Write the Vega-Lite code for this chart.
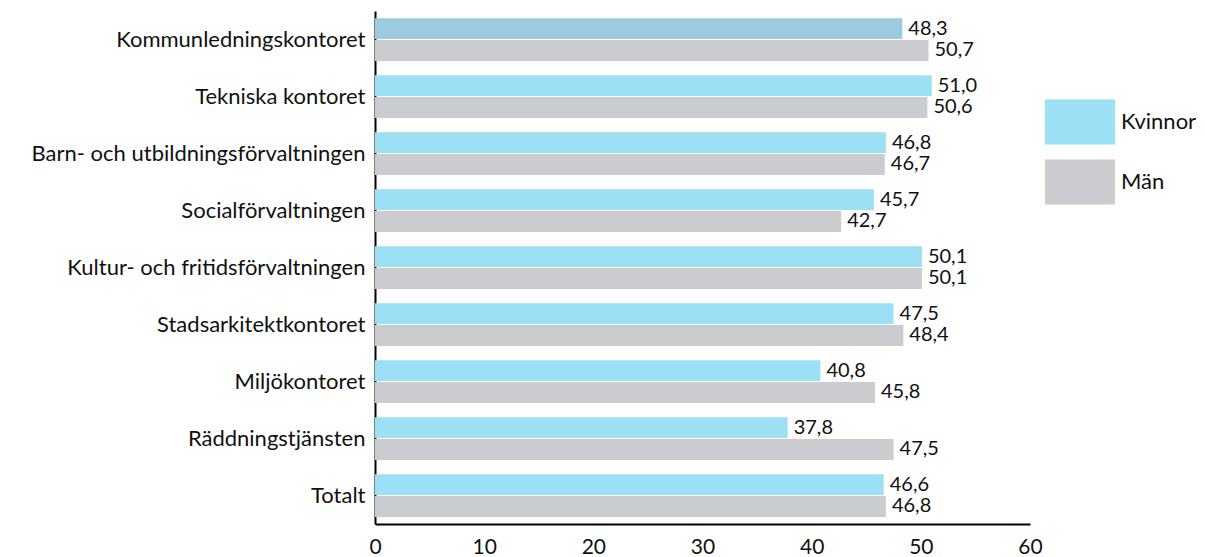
{
  "$schema": "https://vega.github.io/schema/vega-lite/v6.json",
  "autosize": "none",
  "width": 655,
  "height": 513,
  "padding": {"left": 375, "top": 11, "right": 175, "bottom": 33},
  "background": "white",
  "config": {
    "view": {"stroke": null},
    "font": "Lato",
    "locale": {"number": {"decimal": ",", "thousands": " ", "grouping": [3], "currency": ["", " kr"]}}
  },
  "data": {
    "values": [
      {"avd": "Kommunledningskontoret", "kon": "Kvinnor", "v": 48.3},
      {"avd": "Kommunledningskontoret", "kon": "Män", "v": 50.7},
      {"avd": "Tekniska kontoret", "kon": "Kvinnor", "v": 51.0},
      {"avd": "Tekniska kontoret", "kon": "Män", "v": 50.6},
      {"avd": "Barn- och utbildningsförvaltningen", "kon": "Kvinnor", "v": 46.8},
      {"avd": "Barn- och utbildningsförvaltningen", "kon": "Män", "v": 46.7},
      {"avd": "Socialförvaltningen", "kon": "Kvinnor", "v": 45.7},
      {"avd": "Socialförvaltningen", "kon": "Män", "v": 42.7},
      {"avd": "Kultur- och fritidsförvaltningen", "kon": "Kvinnor", "v": 50.1},
      {"avd": "Kultur- och fritidsförvaltningen", "kon": "Män", "v": 50.1},
      {"avd": "Stadsarkitektkontoret", "kon": "Kvinnor", "v": 47.5},
      {"avd": "Stadsarkitektkontoret", "kon": "Män", "v": 48.4},
      {"avd": "Miljökontoret", "kon": "Kvinnor", "v": 40.8},
      {"avd": "Miljökontoret", "kon": "Män", "v": 45.8},
      {"avd": "Räddningstjänsten", "kon": "Kvinnor", "v": 37.8},
      {"avd": "Räddningstjänsten", "kon": "Män", "v": 47.5},
      {"avd": "Totalt", "kon": "Kvinnor", "v": 46.6},
      {"avd": "Totalt", "kon": "Män", "v": 46.8}
    ]
  },
  "encoding": {
    "y": {
      "field": "avd", "type": "nominal", "sort": null,
      "scale": {"paddingInner": 0.25, "paddingOuter": 0.125},
      "axis": {"title": null, "ticks": false, "labelFontSize": 22, "labelColor": "#111", "labelPadding": 10, "labelLimit": 400, "domainColor": "#000", "domainWidth": 2, "labelFont": "Lato"}
    },
    "yOffset": {"field": "kon", "type": "nominal", "sort": ["Kvinnor", "Män"], "scale": {"paddingInner": 0.05}},
    "x": {
      "field": "v", "type": "quantitative",
      "scale": {"domain": [0, 60], "nice": false},
      "axis": {"title": null, "values": [0, 10, 20, 30, 40, 50, 60], "grid": false, "ticks": false, "labelFontSize": 21, "labelColor": "#111", "labelPadding": 12, "domainColor": "#000", "domainWidth": 2, "format": "d", "labelFont": "Lato", "labelFlush": false}
    }
  },
  "layer": [
    {
      "mark": {"type": "bar"},
      "encoding": {
        "color": {
          "field": "kon", "type": "nominal",
          "scale": {"domain": ["Kvinnor", "Män"], "range": ["#9be0f5", "#cbcccf"]},
          "legend": {
            "title": null, "orient": "none", "legendX": 670, "legendY": 76,
            "symbolType": "M-1,-0.643H1V0.643H-1Z", "symbolSize": 4900, "symbolStrokeWidth": 0,
            "labelFontSize": 22, "labelColor": "#111", "labelFont": "Lato", "rowPadding": 2, "labelOffset": 6
          },
          "condition": {"test": "datum.avd === 'Kommunledningskontoret' && datum.kon === 'Kvinnor'", "value": "#9ccae0"}
        }
      }
    },
    {
      "mark": {"type": "text", "align": "left", "baseline": "middle", "dx": 6, "fontSize": 20, "color": "#111", "font": "Lato"},
      "encoding": {
        "text": {"field": "v", "type": "quantitative", "format": ".1f"}
      }
    }
  ]
}
